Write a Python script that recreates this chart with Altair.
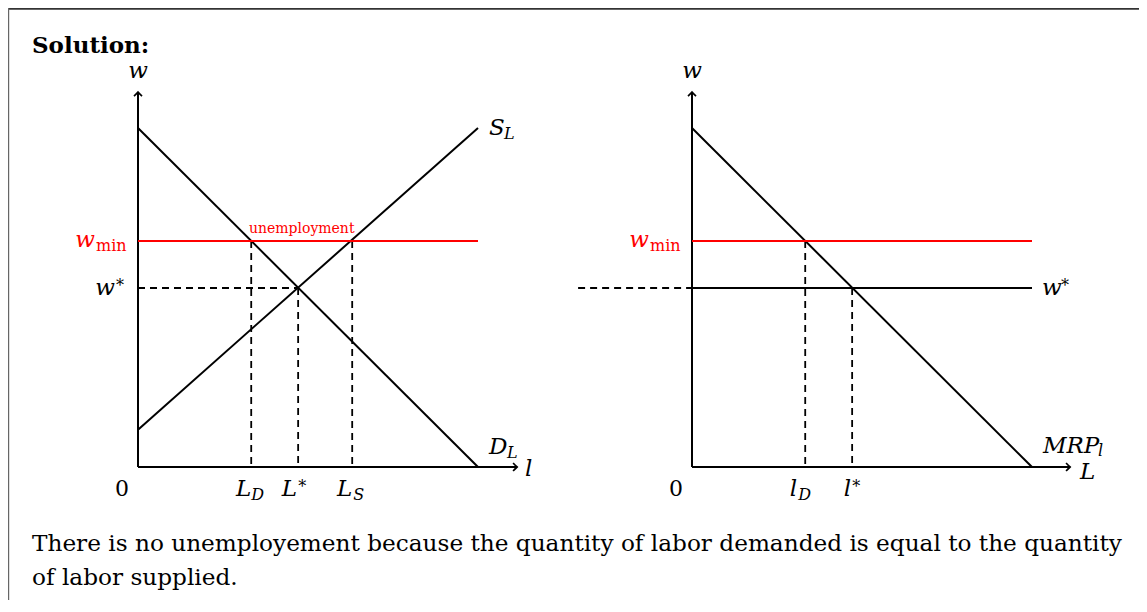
import altair as alt
import pandas as pd

# ---------------- values (model units) ----------------
# left panel: market for labour
demand_x = [0.0, 10.0]
demand_w = [10.0, 0.0]
supply_x = [0.0, 10.0]
supply_w = [1.1, 10.0]
w_min = 6.67
w_star = 5.28
L_D, L_star, L_S = 3.33, 4.71, 6.3
# right panel: one firm
mrp_x = [0.0, 10.0]
mrp_w = [10.0, 0.0]
l_D, l_star = 3.33, 4.71
wage_line_end = 10.0
w_star_dash_start = -3.35
axis_top = 11.06
axis_right = [11.15, 11.12]

title_text = "Solution:"
note_lines = [
    "There is no unemployement because the quantity of labor demanded is equal to the quantity",
    "of labor supplied.",
]

# ---------------- layout ----------------
W, H = 1131, 592
KX, KY = 34.0, 33.9            # pixels per model unit
OX, OY = 130, 459              # left-panel origin inside the plot area (px)
SHIFT = 554 / KX               # horizontal shift of the right panel (units)
XDOM = [-OX / KX, (W - OX) / KX]
YDOM = [(OY - H) / KY, OY / KY]
FONT = "DejaVu Serif"

segs = []


def seg(panel, x, y, x2, y2, kind):
    segs.append(dict(x=x + panel * SHIFT, y=y, x2=x2 + panel * SHIFT, y2=y2, kind=kind))


# left panel
seg(0, 0, 0, 0, axis_top, "solid")
seg(0, 0, 0, axis_right[0], 0, "solid")
seg(0, demand_x[0], demand_w[0], demand_x[1], demand_w[1], "solid")
seg(0, supply_x[0], supply_w[0], supply_x[1], supply_w[1], "solid")
seg(0, 0, w_star, L_star, w_star, "dash")
seg(0, L_D, w_min, L_D, 0, "dash")
seg(0, L_star, w_star, L_star, 0, "dash")
seg(0, L_S, w_min, L_S, 0, "dash")
seg(0, 0, w_min, demand_x[1], w_min, "red")
# right panel
seg(1, 0, 0, 0, axis_top, "solid")
seg(1, 0, 0, axis_right[1], 0, "solid")
seg(1, mrp_x[0], mrp_w[0], mrp_x[1], mrp_w[1], "solid")
seg(1, 0, w_star, wage_line_end, w_star, "solid")
seg(1, w_star_dash_start, w_star, 0, w_star, "dash")
seg(1, l_D, w_min, l_D, 0, "dash")
seg(1, l_star, w_star, l_star, 0, "dash")
seg(1, 0, w_min, wage_line_end, w_min, "red")
seg_df = pd.DataFrame(segs)

arrows = pd.DataFrame([
    dict(x=0, y=axis_top, ang=0),
    dict(x=axis_right[0], y=0, ang=90),
    dict(x=SHIFT, y=axis_top, ang=0),
    dict(x=axis_right[1] + SHIFT, y=0, ang=90),
])

# labels: anchor (model units), pixel offsets, style
labels = []


def lab(panel, text, ax, ay, dx, dy, style, align, color="black"):
    labels.append(dict(text=text, x=ax + panel * SHIFT + dx / KX, y=ay - dy / KY,
                       style=style, align=align, color=color))


for p in (0, 1):
    lab(p, "w", 0, axis_top, 0, -14, "it", "center")
    lab(p, "0", 0, 0, -16, 29, "rm", "center")
    lab(p, "w", 0, w_min, -43, 6, "it", "right", "red")
    lab(p, "min", 0, w_min, -42, 10, "small", "left", "red")
# left panel
lab(0, "w", 0, w_star, -23, 7, "it", "right")
lab(0, "*", 0, w_star, -22, 3, "small", "left")
lab(0, "L", L_D, 0, 0, 29, "it", "right")
lab(0, "D", L_D, 0, 0, 33, "smallit", "left")
lab(0, "L", L_star, 0, -1, 29, "it", "right")
lab(0, "*", L_star, 0, 0, 25, "small", "left")
lab(0, "L", L_S, 0, 0, 29, "it", "right")
lab(0, "S", L_S, 0, 1, 33, "smallit", "left")
lab(0, "S", supply_x[1], supply_w[1], 11, 7, "it", "left")
lab(0, "L", supply_x[1], supply_w[1], 26, 11, "smallit", "left")
lab(0, "D", demand_x[1], demand_w[1], 11, -13, "it", "left")
lab(0, "L", demand_x[1], demand_w[1], 29, -9, "smallit", "left")
lab(0, "l", axis_right[0], 0, 8, 9, "it", "left")
lab(0, "unemployment", (L_D + L_S) / 2, w_min, 0, -8, "tiny", "center", "red")
# right panel
lab(1, "w", wage_line_end, w_star, 10, 7, "it", "left")
lab(1, "*", wage_line_end, w_star, 29, 3, "small", "left")
lab(1, "l", l_D, 0, -8, 29, "it", "right")
lab(1, "D", l_D, 0, -7, 33, "smallit", "left")
lab(1, "l", l_star, 0, -1, 29, "it", "right")
lab(1, "*", l_star, 0, 0, 25, "small", "left")
lab(1, "MRP", mrp_x[1], mrp_w[1], 11, -14, "it", "left")
lab(1, "l", mrp_x[1], mrp_w[1], 66, -11, "smallit", "left")
lab(1, "L", axis_right[1], 0, 10, 12, "it", "left")
lab_df = pd.DataFrame(labels)

STYLES = {
    "it": dict(fontSize=23, fontStyle="italic"),
    "rm": dict(fontSize=22, fontStyle="normal"),
    "small": dict(fontSize=16, fontStyle="normal"),
    "smallit": dict(fontSize=16, fontStyle="italic"),
    "tiny": dict(fontSize=14, fontStyle="normal"),
}

xs = alt.Scale(domain=XDOM, nice=False, zero=False)
ys = alt.Scale(domain=YDOM, nice=False, zero=False)
X = alt.X("x:Q", scale=xs, axis=None)
Y = alt.Y("y:Q", scale=ys, axis=None)

layers = []

# frame (top and left edges)
frame_df = pd.DataFrame([{"k": 0}])
layers.append(alt.Chart(frame_df).mark_rule(color="#333", strokeWidth=1.8).encode(
    x=alt.value(0), x2=alt.value(W), y=alt.value(0.9)))
layers.append(alt.Chart(frame_df).mark_rule(color="#666", strokeWidth=1.2).encode(
    x=alt.value(0.6), y=alt.value(0), y2=alt.value(H)))

kinds = {
    "dash": dict(color="black", strokeWidth=1.8, strokeDash=[7, 5]),
    "solid": dict(color="black", strokeWidth=2.0),
    "red": dict(color="#ff0000", strokeWidth=2.0),
}
for k, st in kinds.items():
    layers.append(alt.Chart(seg_df[seg_df.kind == k]).mark_rule(**st).encode(
        x=X, y=Y, x2="x2:Q", y2="y2:Q"))

ARROW = "M-1,1 Q-0.35,0.4 0,0 Q0.35,0.4 1,1"
layers.append(alt.Chart(arrows).mark_point(shape=ARROW, filled=False, size=64,
                                           color="black", strokeWidth=1.7, opacity=1).encode(
    x=X, y=Y, angle=alt.Angle("ang:Q", scale=None)))

for (style, align, color), g in lab_df.groupby(["style", "align", "color"]):
    layers.append(alt.Chart(g).mark_text(font=FONT, align=align, baseline="alphabetic",
                                         color=color, **STYLES[style]).encode(
        x=X, y=Y, text="text:N"))

# heading and note
txt_df = pd.DataFrame([{"title": title_text, "note": "\n".join(note_lines)}])
layers.append(alt.Chart(txt_df).mark_text(font=FONT, fontSize=23, fontWeight="bold",
                                          align="left", baseline="alphabetic",
                                          color="black").encode(
    x=alt.value(24), y=alt.value(45), text="title:N"))
layers.append(alt.Chart(txt_df).mark_text(font=FONT, fontSize=23.2, align="left",
                                          baseline="alphabetic", color="black",
                                          lineBreak="\n", lineHeight=34).encode(
    x=alt.value(24), y=alt.value(543), text="note:N"))

chart = alt.layer(*layers).properties(
    width=W, height=H, padding=0,
    autosize=alt.AutoSizeParams(type="none"),
).configure_view(stroke=None)

chart.save("out.html", embed_options={"renderer": "svg", "actions": False})
